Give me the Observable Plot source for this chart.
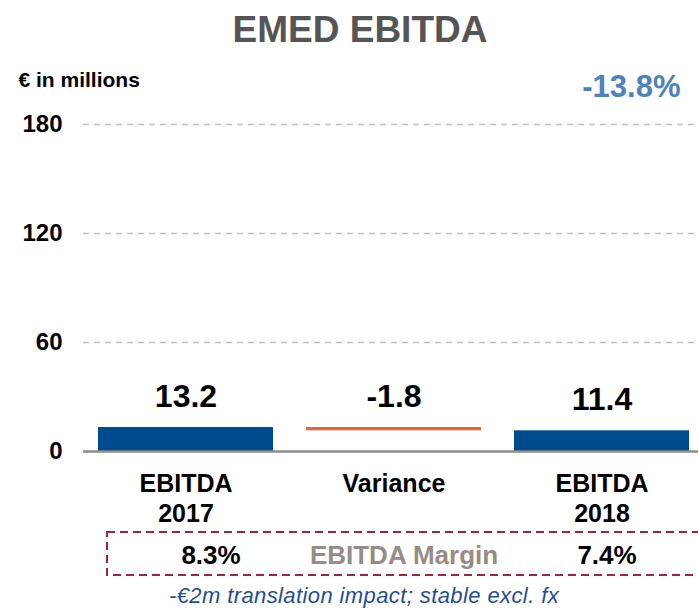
<!DOCTYPE html>
<html><head><meta charset="utf-8">
<script src="https://cdn.jsdelivr.net/npm/d3@7"></script>
<script src="https://cdn.jsdelivr.net/npm/@observablehq/plot@0.6"></script>
<style>
body{margin:0;background:#fff;font-family:"Liberation Sans",Arial,sans-serif;}
#wrap{width:698px;height:609px;position:relative;overflow:hidden}
#title{height:60px;line-height:60px;text-align:center;font-size:37px;font-weight:bold;color:#555555;padding-left:22px;box-sizing:border-box}
#caption{text-align:center;font-style:italic;color:#1f4e96;font-size:22px;line-height:22px;padding-left:30px;letter-spacing:0.4px}
#chart svg{display:block}
</style></head><body><div id="wrap"><div id="title">EMED EBITDA</div><div id="chart"></div><div id="caption">-€2m translation impact; stable excl. fx</div></div>
<script>
const categories = ["EBITDA 2017", "Variance", "EBITDA 2018"];
const values = [13.2, -1.8, 11.4];
const kinds = ["total", "delta", "total"];
const margins = ["8.3%", "", "7.4%"];
const yTicks = [0, 60, 120, 180];
const gridTicks = [60, 120, 180];
const unitLabel = "€ in millions";
const changeLabel = "-13.8%";
const marginLabel = "EBITDA Margin";

let run = 0;
const data = categories.map((c, i) => {
  let y1, y2;
  if (kinds[i] === "total") { y1 = 0; y2 = values[i]; run = values[i]; }
  else { y1 = run; y2 = run + values[i]; run = y2; }
  return {cat: c, kind: kinds[i], value: values[i], y1, y2, top: Math.max(y1, y2),
          label: values[i].toFixed(1), margin: margins[i]};
});
const font = "Liberation Sans, Arial, sans-serif";

const chart = Plot.plot({
  width: 698, height: 525,
  marginTop: 64, marginBottom: 134, marginLeft: 83, marginRight: 0,
  style: {fontFamily: font, color: "#000", background: "#fff"},
  x: {type: "band", domain: categories, range: [81, 706], paddingInner: 0.16, paddingOuter: 0.08},
  y: {domain: [0, 180], label: null},
  marks: [
    Plot.ruleY(gridTicks, {stroke: "#c0c0c0", strokeWidth: 1.5, strokeDasharray: "6,5"}),
    Plot.barY(data, {x: "cat", y1: "y1", y2: "y2", fill: d => d.kind === "total" ? "#004b8d" : "#e8643a"}),
    Plot.ruleY([0], {stroke: "#8c8c8c", strokeWidth: 2.5}),
    Plot.text(data, {x: "cat", y: "top", text: "label", dy: -31, lineAnchor: "middle", fontSize: 32, fontWeight: "bold", fill: "#000"}),
    Plot.axisY(yTicks, {tickSize: 0, tickPadding: 21, fontSize: 24, fontWeight: "bold", label: null}),
    Plot.axisX({tickSize: 0, tickPadding: 19, fontSize: 25, fontWeight: "bold", label: null,
      tickFormat: d => d.replace(" ", "\n"), lineHeight: 1.2}),
    Plot.rect([0], {insetTop: 408, insetBottom: -124, insetLeft: 24, insetRight: -12,
      fill: "none", stroke: "#a8203f", strokeWidth: 2, strokeDasharray: "8,5"}),
    Plot.text(data.filter((d, i) => i === 0), {x: "cat", text: "margin", frameAnchor: "bottom", lineAnchor: "middle", dy: 104, dx: 25, fontSize: 26, fontWeight: "bold", fill: "#000"}),
    Plot.text(data.filter((d, i) => i === 2), {x: "cat", text: "margin", frameAnchor: "bottom", lineAnchor: "middle", dy: 104, dx: 5, fontSize: 26, fontWeight: "bold", fill: "#000"}),
    Plot.text([marginLabel], {x: () => categories[1], frameAnchor: "bottom", lineAnchor: "middle", dy: 104, dx: 10, fontSize: 26,
      fontWeight: "bold", fill: "#978c84", letterSpacing: "1.3px"}),
    Plot.text([unitLabel], {frameAnchor: "top-left", lineAnchor: "middle", dx: -65, dy: -44, textAnchor: "start", fontSize: 21, fontWeight: "bold", fill: "#000", letterSpacing: "0.5px"}),
    Plot.text([changeLabel], {frameAnchor: "top-right", lineAnchor: "middle", dx: -18, dy: -37, textAnchor: "end", fontSize: 31, fontWeight: "bold", fill: "#4f81bd"})
  ]
});
document.getElementById("chart").appendChild(chart);
</script></body></html>
